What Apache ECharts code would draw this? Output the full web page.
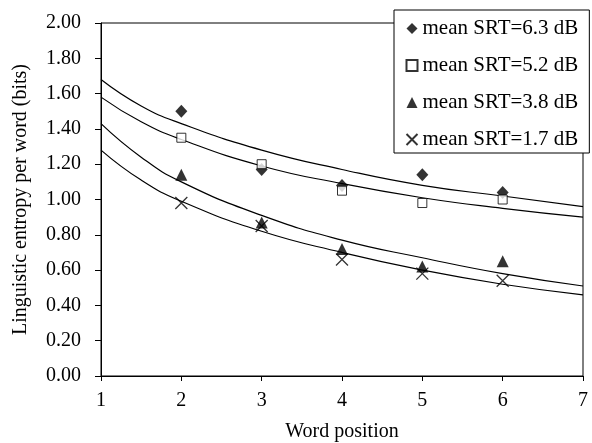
<!DOCTYPE html>
<html>
<head>
<meta charset="utf-8">
<script src="https://cdn.jsdelivr.net/npm/echarts@6/dist/echarts.min.js"></script>
<style>
  html, body { margin: 0; padding: 0; background: #fff; }
  #chart { width: 592px; height: 443px; }
</style>
</head>
<body>
<div id="chart"></div>
<script>
// measured points per word position
const wordPos = [2, 3, 4, 5, 6]
const srt63 = [1.50, 1.17, 1.08, 1.14, 1.04]
const srt52 = [1.35, 1.20, 1.05, 0.98, 1.00]
const srt38 = [1.14, 0.87, 0.72, 0.62, 0.65]
const srt17 = [0.98, 0.85, 0.66, 0.58, 0.54]

// fitted curves
const fitX = [1, 1.5, 2, 3, 4, 5, 6, 7]
const fit63 = [1.68, 1.53, 1.43, 1.28, 1.17, 1.08, 1.02, 0.96]
const fit52 = [1.58, 1.44, 1.34, 1.19, 1.09, 1.01, 0.95, 0.90]
const fit38 = [1.43, 1.24, 1.10, 0.91, 0.77, 0.67, 0.58, 0.51]
const fit17 = [1.28, 1.11, 0.99, 0.82, 0.70, 0.60, 0.52, 0.46]

const names = ['mean SRT=6.3 dB', 'mean SRT=5.2 dB', 'mean SRT=3.8 dB', 'mean SRT=1.7 dB']

const font = 'Liberation Serif'
const pair = (xs, ys) => xs.map((x, i) => [x, ys[i]])

const fitLine = (ys) => ({
  type: 'line',
  data: pair(fitX, ys),
  smooth: 0.5,
  showSymbol: false,
  silent: true,
  lineStyle: { color: '#000', width: 1.2 },
  z: 1
})

const crossPath = 'path://M0,0L10,10M10,0L0,10'

const chart = echarts.init(document.getElementById('chart'))

const option = {
  backgroundColor: '#fff',
  animation: false,
  textStyle: { fontFamily: font, color: '#000' },
  grid: {
    left: 101,
    right: 9,
    top: 23,
    bottom: 67,
    outerBoundsMode: 'none',
    show: true,
    borderColor: '#000',
    borderWidth: 1
  },
  legend: {
    data: names,
    orient: 'vertical',
    left: 394,
    top: 10,
    backgroundColor: '#fff',
    borderColor: '#000',
    borderWidth: 1,
    padding: [8, 11, 3, 10],
    itemWidth: 11,
    itemHeight: 11,
    itemGap: 16,
    textStyle: { fontFamily: font, fontSize: 21, color: '#000', lineHeight: 21 }
  },
  xAxis: {
    type: 'value',
    min: 1,
    max: 7,
    interval: 1,
    name: 'Word position',
    nameLocation: 'middle',
    nameGap: 46,
    nameTextStyle: { fontFamily: font, fontSize: 20, color: '#000' },
    axisLine: { lineStyle: { color: '#000', width: 1 } },
    axisTick: { show: true, length: 5, lineStyle: { color: '#000' } },
    axisLabel: { fontFamily: font, fontSize: 20, color: '#000', margin: 15 },
    splitLine: { show: false }
  },
  yAxis: {
    type: 'value',
    min: 0,
    max: 2,
    interval: 0.2,
    name: 'Linguistic entropy per word (bits)',
    nameLocation: 'middle',
    nameGap: 70,
    nameTextStyle: { fontFamily: font, fontSize: 20, color: '#000' },
    axisLine: { show: true, lineStyle: { color: '#000', width: 1 } },
    axisTick: { show: true, length: 6, lineStyle: { color: '#000' } },
    axisLabel: {
      fontFamily: font,
      fontSize: 20,
      color: '#000',
      margin: 20,
      formatter: (v) => v.toFixed(2)
    },
    splitLine: { show: false }
  },
  series: [
    fitLine(fit63),
    fitLine(fit52),
    fitLine(fit38),
    fitLine(fit17),
    {
      name: names[0],
      type: 'scatter',
      data: pair(wordPos, srt63),
      symbol: 'diamond',
      symbolSize: [12, 13],
      itemStyle: { color: '#000' },
      z: 3
    },
    {
      name: names[1],
      type: 'scatter',
      data: pair(wordPos, srt52),
      symbol: 'rect',
      symbolSize: 9,
      itemStyle: { color: '#fff', borderColor: '#000', borderWidth: 1 },
      z: 4
    },
    {
      name: names[3],
      type: 'scatter',
      data: pair(wordPos, srt17),
      symbol: crossPath,
      symbolSize: 12,
      itemStyle: { color: 'none', borderColor: '#000', borderWidth: 1.3 },
      z: 5
    },
    {
      name: names[2],
      type: 'scatter',
      data: pair(wordPos, srt38),
      symbol: 'triangle',
      symbolSize: [12, 12],
      itemStyle: { color: '#000' },
      z: 6
    }
  ]
}

chart.setOption(option)
</script>
</body>
</html>
